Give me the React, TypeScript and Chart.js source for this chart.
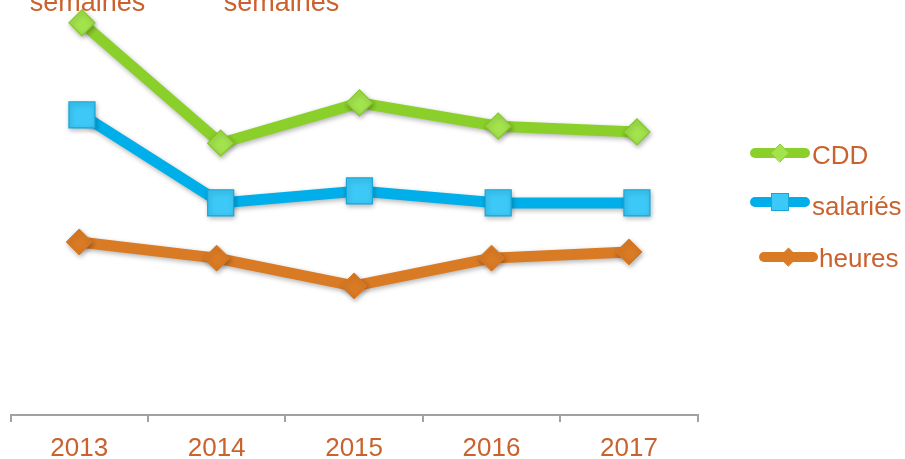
import React, { useEffect, useRef } from "react";
import { Chart, registerables } from "chart.js";

Chart.register(...registerables);

const categories = ["2013", "2014", "2015", "2016", "2017"];
const cddValues = [94.5, 65.5, 75.2, 69.6, 68.2];
const salariesValues = [72.3, 51.1, 54.0, 51.1, 51.1];
const heuresValues = [41.7, 37.8, 31.1, 37.8, 39.3];
const seriesNames = ["CDD", "salariés", "heures"];
const topNotes = ["semaines", "semaines"];

const TEXT_COLOR = "#c9622e";
const FONT_FAMILY = "'Liberation Sans', Arial, Helvetica, sans-serif";
const GREEN = "#8bd02a";
const GREEN_FILL = "#a3e34d";
const BLUE = "#00afe9";
const BLUE_FILL = "#3cc9f7";
const ORANGE = "#d97a24";

const shadowPlugin = {
  id: "softShadow",
  beforeDatasetsDraw(chart: any) {
    const ctx = chart.ctx;
    ctx.save();
    ctx.shadowColor = "rgba(0,0,0,0.3)";
    ctx.shadowBlur = 5;
    ctx.shadowOffsetX = 1;
    ctx.shadowOffsetY = 2;
  },
  afterDatasetsDraw(chart: any) {
    chart.ctx.restore();
  },
};

const notesPlugin = {
  id: "topNotes",
  afterDraw(chart: any) {
    const ctx = chart.ctx;
    const centers = [87.5, 281.5];
    ctx.save();
    ctx.fillStyle = TEXT_COLOR;
    ctx.font = `27px ${FONT_FAMILY}`;
    ctx.textAlign = "center";
    ctx.textBaseline = "alphabetic";
    topNotes.forEach((t, i) => {
      ctx.fillText(t, centers[i], 11);
    });
    ctx.restore();
  },
};

function drawDiamond(ctx: any, cx: number, cy: number, r: number, fill: string, stroke: string) {
  ctx.beginPath();
  ctx.moveTo(cx - r, cy);
  ctx.lineTo(cx, cy - r);
  ctx.lineTo(cx + r, cy);
  ctx.lineTo(cx, cy + r);
  ctx.closePath();
  ctx.fillStyle = fill;
  ctx.fill();
  ctx.lineWidth = 1;
  ctx.strokeStyle = stroke;
  ctx.stroke();
}

const legendPlugin = {
  id: "customLegend",
  afterDraw(chart: any) {
    const ctx = chart.ctx;
    const items = [
      { name: seriesNames[0], color: GREEN, fill: GREEN_FILL, shape: "diamond", x0: 755, x1: 805, y: 153, tx: 812, ty: 157 },
      { name: seriesNames[1], color: BLUE, fill: BLUE_FILL, shape: "square", x0: 755, x1: 805, y: 202, tx: 812, ty: 208 },
      { name: seriesNames[2], color: ORANGE, fill: ORANGE, shape: "diamond", x0: 764, x1: 813, y: 257, tx: 819, ty: 260 },
    ];
    ctx.save();
    items.forEach((it) => {
      ctx.beginPath();
      ctx.lineCap = "round";
      ctx.lineWidth = 10;
      ctx.strokeStyle = it.color;
      ctx.moveTo(it.x0, it.y);
      ctx.lineTo(it.x1, it.y);
      ctx.stroke();
      const cx = (it.x0 + it.x1) / 2;
      if (it.shape === "diamond") {
        drawDiamond(ctx, cx, it.y, 9, it.fill, it.color);
      } else {
        ctx.fillStyle = it.fill;
        ctx.fillRect(cx - 8.5, it.y - 8.5, 17, 17);
        ctx.lineWidth = 1;
        ctx.strokeStyle = "#16a6d9";
        ctx.strokeRect(cx - 8.5, it.y - 8.5, 17, 17);
      }
      ctx.fillStyle = TEXT_COLOR;
      ctx.font = `26px ${FONT_FAMILY}`;
      ctx.textAlign = "left";
      ctx.textBaseline = "middle";
      ctx.fillText(it.name, it.tx, it.ty);
    });
    ctx.restore();
  },
};

export default function App() {
  const canvasRef = useRef<HTMLCanvasElement | null>(null);

  useEffect(() => {
    document.body.style.margin = "0";
    const canvas = canvasRef.current;
    if (!canvas) return;
    const chart = new Chart(canvas, {
      type: "line",
      data: {
        labels: categories,
        datasets: [
          {
            label: seriesNames[2],
            data: heuresValues,
            xAxisID: "x",
            borderColor: ORANGE,
            backgroundColor: ORANGE,
            borderWidth: 11,
            pointStyle: "rectRot",
            pointRadius: 13,
            pointBorderWidth: 1,
            pointBorderColor: ORANGE,
            pointBackgroundColor: ORANGE,
            tension: 0,
          },
          {
            label: seriesNames[1],
            data: categories.map((_, i) => ({ x: i, y: salariesValues[i] })),
            xAxisID: "x2",
            borderColor: BLUE,
            backgroundColor: BLUE_FILL,
            borderWidth: 11,
            pointStyle: "rect",
            pointRadius: 18.4,
            pointBorderWidth: 1.2,
            pointBorderColor: "#16a6d9",
            pointBackgroundColor: BLUE_FILL,
            tension: 0,
          },
          {
            label: seriesNames[0],
            data: categories.map((_, i) => ({ x: i, y: cddValues[i] })),
            xAxisID: "x2",
            borderColor: GREEN,
            backgroundColor: GREEN_FILL,
            borderWidth: 11,
            pointStyle: "rectRot",
            pointRadius: 13,
            pointBorderWidth: 1.2,
            pointBorderColor: "#86c828",
            pointBackgroundColor: GREEN_FILL,
            tension: 0,
          },
        ],
      },
      options: {
        animation: false,
        responsive: false,
        events: [],
        layout: {
          autoPadding: false,
          padding: { left: 10.5, right: 207.3, top: 0, bottom: 0 },
        },
        plugins: {
          legend: { display: false },
          tooltip: { enabled: false },
          title: { display: false },
        },
        scales: {
          x: {
            type: "category",
            offset: true,
            grid: {
              display: true,
              drawOnChartArea: false,
              drawTicks: true,
              tickLength: 7,
              color: "#a2a2a2",
              lineWidth: 2,
              offset: true,
            },
            border: { display: true, color: "#a2a2a2", width: 2 },
            ticks: {
              color: TEXT_COLOR,
              font: { family: FONT_FAMILY, size: 26, lineHeight: 1.2 },
              padding: 11,
              maxRotation: 0,
              autoSkip: false,
            },
            afterFit: (scale: any) => {
              scale.height = 44;
            },
          },
          x2: {
            type: "linear",
            display: false,
            min: -0.515,
            max: 4.438,
          },
          y: {
            display: false,
            min: 0,
            max: 100,
          },
        },
      },
      plugins: [shadowPlugin, notesPlugin, legendPlugin],
    });
    return () => chart.destroy();
  }, []);

  return (
    <div style={{ width: 905, height: 459, position: "relative" }}>
      <canvas ref={canvasRef} width={905} height={459} />
    </div>
  );
}
